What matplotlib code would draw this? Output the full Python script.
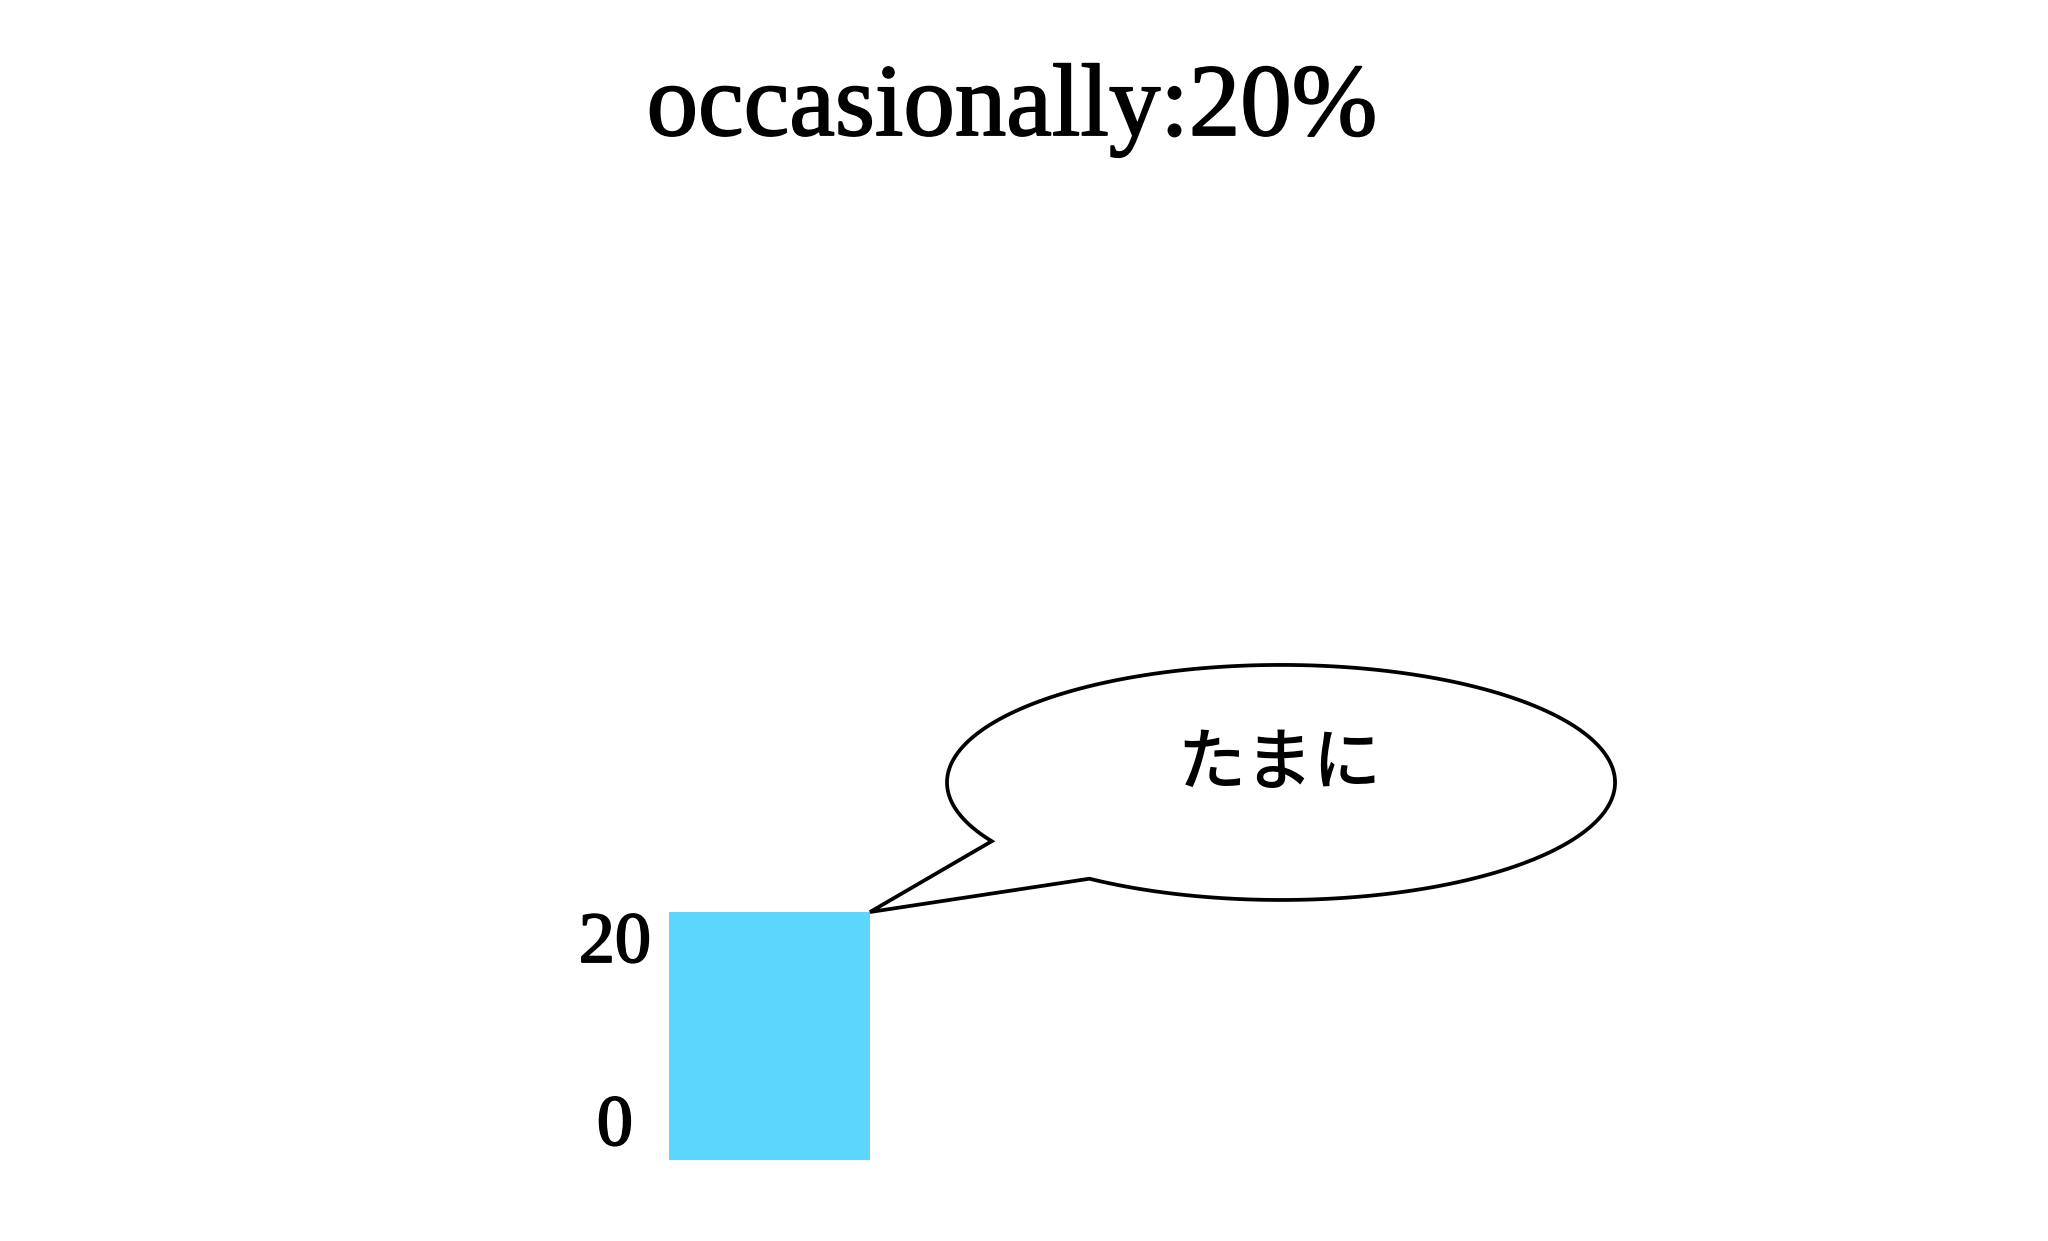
import numpy as np
import matplotlib.pyplot as plt
import matplotlib.patheffects as pe
from matplotlib.path import Path
from matplotlib.patches import PathPatch

# data
categories = ['occasionally']
values = [20]
bubble_text = ['たまに']
yticks = [0, 20]

heavy = [pe.withStroke(linewidth=1.3, foreground='black')]

fig = plt.figure(figsize=(20.48, 12.41), dpi=100)
ax = fig.add_axes([0.3267, 0.0653, 0.55, 0.7992])
bars = ax.bar(range(len(values)), values, width=0.8, color='#5cd6fc')
ax.set_xlim(-0.4, -0.4 + 0.8 * 0.55 / 0.0981)
ax.set_ylim(0, 80)

for s in ax.spines.values():
    s.set_visible(False)
ax.set_xticks([])
ax.set_yticks(yticks)
ax.set_yticklabels([str(t) for t in yticks], family='Liberation Serif', fontsize=52)
ax.tick_params(axis='y', length=0, pad=39)
tl = ax.get_yticklabels()
for t in tl:
    t.set_ha('center')
    t.set_path_effects(heavy)
tl[0].set_va('bottom')
tl[-1].set_va('top')

# title
fig.text(0.494, 0.8912, f'{categories[0]}:{values[0]}%', ha='center', va='baseline',
         family='Liberation Serif', fontsize=74, path_effects=heavy)

# speech bubble, tail pointing at the top right corner of the bar
b = bars[0]
tip = fig.transFigure.inverted().transform(
    ax.transData.transform((b.get_x() + b.get_width(), b.get_height())))
cx, cy, rx, ry = 0.6255, 0.3695, 0.1631, 0.0947
th = np.radians(np.linspace(150, 485, 300))
xs = cx + rx * np.cos(th)
ys = cy - ry * np.sin(th)
verts = list(zip(xs, ys)) + [tuple(tip), (xs[0], ys[0])]
codes = [Path.MOVETO] + [Path.LINETO] * (len(verts) - 2) + [Path.CLOSEPOLY]
bubble = PathPatch(Path(verts, codes), transform=fig.transFigure, facecolor='white',
                   edgecolor='black', lw=2.7, joinstyle='miter')
fig.add_artist(bubble)
fig.text(0.6245, 0.3844, bubble_text[0], ha='center', va='center',
         family=['Noto Sans CJK JP', 'DejaVu Sans'], fontsize=49, fontweight='medium')

fig.savefig('out.png', dpi=100, facecolor='white')
